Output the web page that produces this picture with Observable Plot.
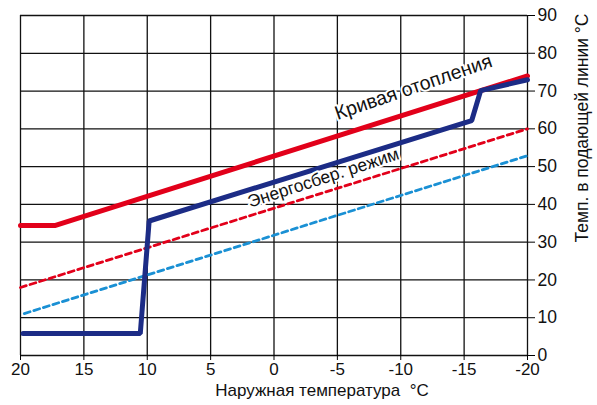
<!DOCTYPE html>
<html>
<head>
<meta charset="utf-8">
<script src="https://cdn.jsdelivr.net/npm/d3@7"></script>
<script src="https://cdn.jsdelivr.net/npm/@observablehq/plot@0.6"></script>
<style>
  html, body { margin: 0; padding: 0; background: #fff; }
  svg { display: block; }
</style>
</head>
<body>
<div id="chart"></div>
<script>
// Tick values
const xTicks = [20, 15, 10, 5, 0, -5, -10, -15, -20];
const yTicks = [0, 10, 20, 30, 40, 50, 60, 70, 80, 90];

// Heating curve (thick red)
const heatX = [20, 17.3, -20];
const heatY = [34.4, 34.4, 74];

// Actual flow temperature (thick navy)
const flowX = [19.8, 10.55, 9.85, -15.6, -16.3, -20];
const flowY = [5.8, 5.8, 35.6, 62.2, 70.1, 73];

// Energy-saving mode (red dashed)
const saveX = [20, -20];
const saveY = [18, 60];

// Lower curve (light blue dashed)
const lowX = [19.7, -20];
const lowY = [11.1, 52.9];

// Annotations
const noteText = ["Кривая отопления", "Энергосбер. режим"];
const noteX = [-11.0, -3.9];
const noteY = [71.0, 47.0];
const noteAngle = [-19, -18];
const noteSize = [19.5, 17.5];

const xLabel = "Наружная температура  °C";
const yLabel = "Темп. в подающей линии °C";

const toRows = (xs, ys) => xs.map((x, i) => ({x, y: ys[i]}));
const notes = noteText.map((t, i) => ({t, x: noteX[i], y: noteY[i], a: noteAngle[i], s: noteSize[i]}));

const font = "'Liberation Sans', Arial, sans-serif";

const chart = Plot.plot({
  width: 597,
  height: 405,
  marginLeft: 20,
  marginRight: 70,
  marginTop: 15,
  marginBottom: 50,
  style: {fontFamily: font, background: "#fff"},
  x: {domain: [20, -20]},
  y: {domain: [0, 90]},
  marks: [
    Plot.gridX(xTicks, {stroke: "#111", strokeOpacity: 1, strokeWidth: 1.3}),
    Plot.gridY(yTicks, {stroke: "#111", strokeOpacity: 1, strokeWidth: 1.3}),
    Plot.axisX(xTicks, {tickSize: 5, tickPadding: 2, fontSize: 17, fill: "#111", label: null, tickFormat: d => String(d)}),
    Plot.axisY(yTicks, {anchor: "right", tickSize: 7, tickPadding: 3, fontSize: 17.5, fill: "#111", label: null, tickFormat: d => String(d)}),
    Plot.line(toRows(lowX, lowY), {x: "x", y: "y", stroke: "#1a90d4", strokeWidth: 2.8, strokeDasharray: "6,4"}),
    Plot.line(toRows(saveX, saveY), {x: "x", y: "y", stroke: "#e2001a", strokeWidth: 2.8, strokeDasharray: "6,4"}),
    Plot.line(toRows(heatX, heatY), {x: "x", y: "y", stroke: "#e2001a", strokeWidth: 5, strokeLinejoin: "miter"}),
    Plot.line(toRows(flowX, flowY), {x: "x", y: "y", stroke: "#1c2c86", strokeWidth: 5, strokeLinejoin: "miter"}),
    Plot.text(notes, {x: "x", y: "y", text: "t", rotate: "a", fontSize: "s", fill: "#111", stroke: "white", strokeWidth: 4, paintOrder: "stroke"}),
    Plot.text([xLabel], {frameAnchor: "bottom", dx: 48, dy: 40, fontSize: 17, fill: "#111"}),
    Plot.text([yLabel], {frameAnchor: "top-right", rotate: -90, textAnchor: "end", dx: 48, dy: -2, fontSize: 17.5, fill: "#111"})
  ]
});
document.getElementById("chart").appendChild(chart);
</script>
</body>
</html>
